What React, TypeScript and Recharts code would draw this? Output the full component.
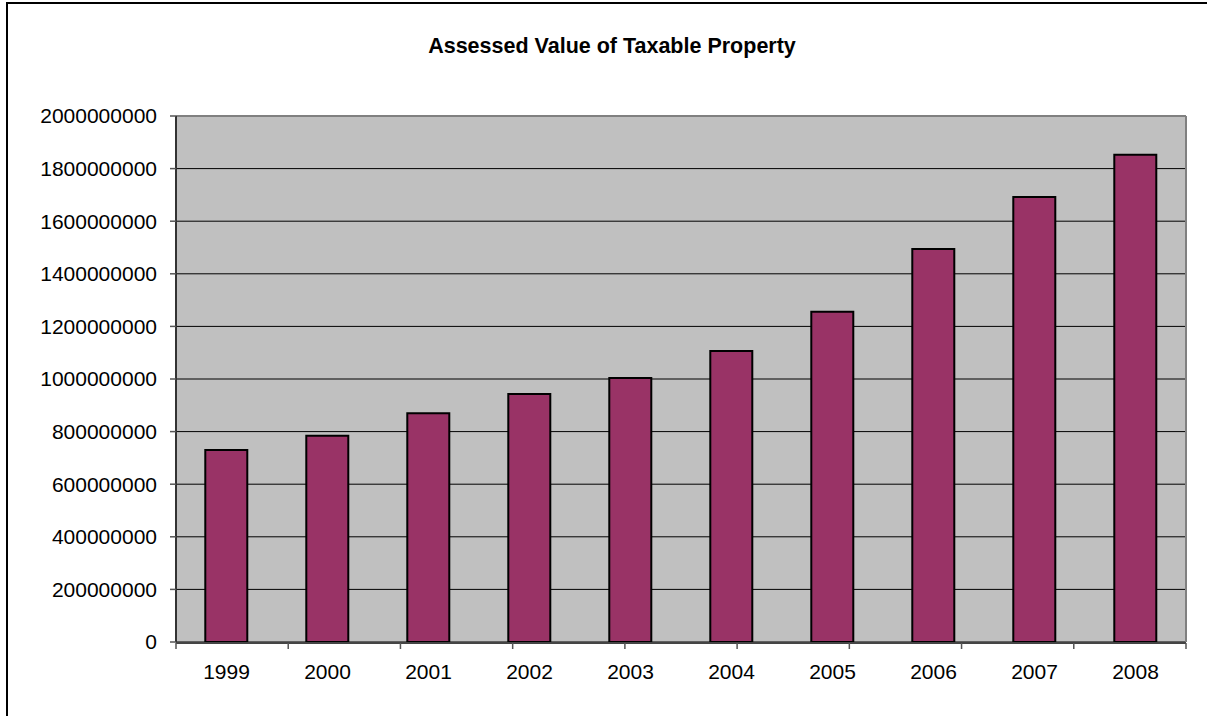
import React from 'react';
import { BarChart, Bar, XAxis, YAxis, CartesianGrid } from 'recharts';

const years = ['1999', '2000', '2001', '2002', '2003', '2004', '2005', '2006', '2007', '2008'];
const assessedValues = [
  730000000, 784000000, 870000000, 943000000, 1004000000,
  1106000000, 1256000000, 1494000000, 1692000000, 1853000000,
];
const yTicks = [0, 200000000, 400000000, 600000000, 800000000, 1000000000, 1200000000, 1400000000, 1600000000, 1800000000, 2000000000];
const boundaryTicks = [0, 1, 2, 3, 4, 5, 6, 7, 8, 9, 10];

const data = years.map((year, i) => ({ year, value: assessedValues[i] }));

const FONT = 'Arial, "Liberation Sans", sans-serif';

const App: React.FC = () => {
  return (
    <div style={{ position: 'relative', width: 1207, height: 716, overflow: 'hidden', background: '#fff', fontFamily: FONT }}>
      <style>{`body { margin: 0; }`}</style>
      <div
        style={{
          position: 'absolute', left: 6, top: 2, width: 1220, height: 730,
          border: '2px solid #000', boxSizing: 'border-box',
        }}
      />
      <div
        style={{
          position: 'absolute', left: 6, top: 34, width: 1212, textAlign: 'center',
          fontSize: 21.5, fontWeight: 'bold', lineHeight: '24px', color: '#000',
        }}
      >
        Assessed Value of Taxable Property
      </div>
      <div style={{ position: 'absolute', left: 0, top: 0 }}>
        <BarChart
          width={1207}
          height={716}
          data={data}
          margin={{ top: 115, right: 20, bottom: 72, left: 0 }}
          barCategoryGap="29%"
        >
          <CartesianGrid vertical={false} fill="#C0C0C0" stroke="#000" strokeOpacity={1} />
          {/* tick marks between categories */}
          <XAxis
            xAxisId="bounds"
            type="number"
            domain={[0, 10]}
            ticks={boundaryTicks}
            interval={0}
            allowDataOverflow
            height={1}
            axisLine={{ stroke: '#444', strokeWidth: 2 }}
            tick={() => <g />}
            tickSize={6}
            tickLine={{ stroke: '#555', strokeWidth: 1.5 }}
          />
          <XAxis
            dataKey="year"
            height={1}
            tickLine={false}
            tickSize={0}
            tickMargin={22}
            axisLine={false}
            tick={{ fill: '#000', fontSize: 21, fontFamily: FONT }}
            interval={0}
          />
          <XAxis
            xAxisId="top"
            orientation="top"
            dataKey="year"
            height={1}
            tick={false}
            tickLine={false}
            axisLine={{ stroke: '#808080', strokeWidth: 2 }}
          />
          <YAxis
            width={176}
            domain={[0, 2000000000]}
            ticks={yTicks}
            interval={0}
            tickSize={6}
            tickMargin={13}
            tickLine={{ stroke: '#555', strokeWidth: 1.5 }}
            axisLine={{ stroke: '#333', strokeWidth: 2 }}
            tick={{ fill: '#000', fontSize: 21, fontFamily: FONT }}
          />
          <YAxis
            yAxisId="right"
            orientation="right"
            width={1}
            domain={[0, 2000000000]}
            tick={false}
            tickLine={false}
            axisLine={{ stroke: '#808080', strokeWidth: 2 }}
          />
          <Bar dataKey="value" fill="#993366" stroke="#000" strokeWidth={2} isAnimationActive={false} />
        </BarChart>
      </div>
    </div>
  );
};

export default App;
